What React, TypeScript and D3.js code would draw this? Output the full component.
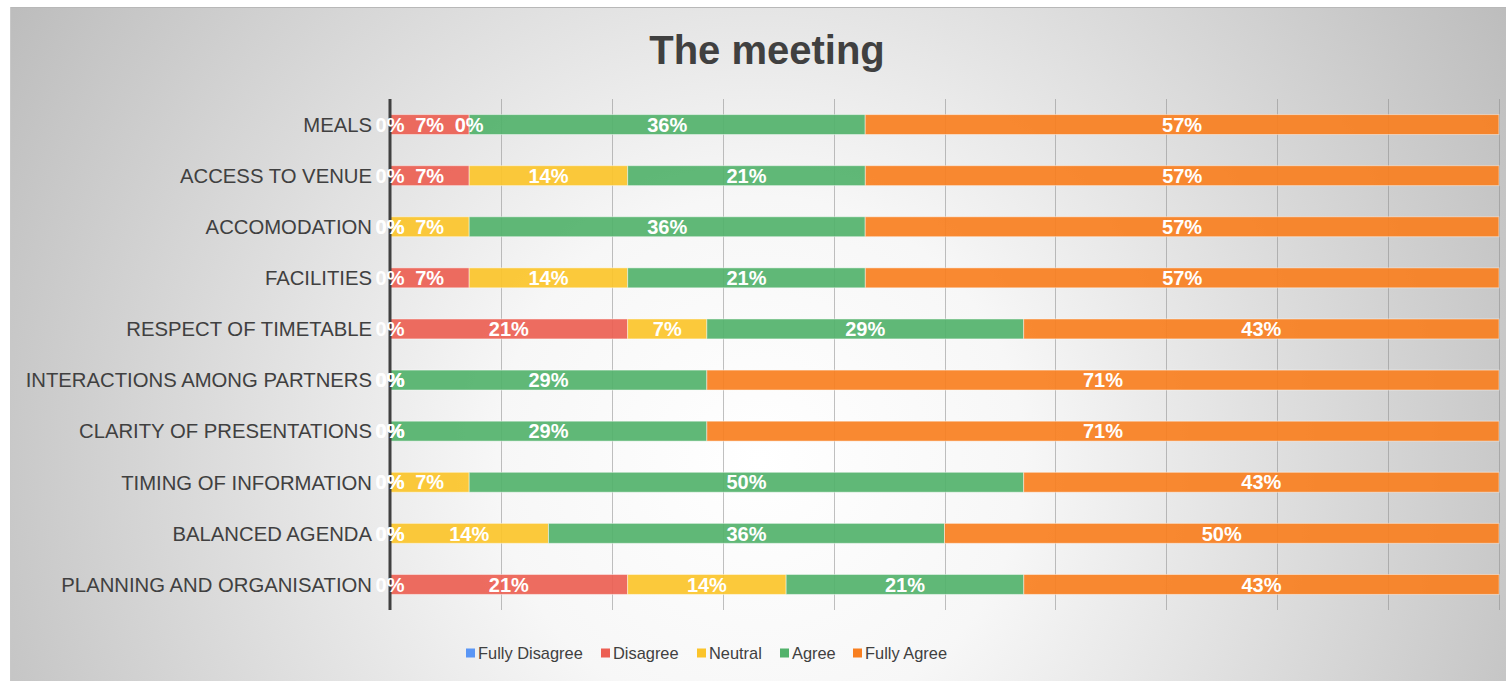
import React from "react";
import * as d3 from "d3";

const categories = [
  "MEALS",
  "ACCESS TO VENUE",
  "ACCOMODATION",
  "FACILITIES",
  "RESPECT OF TIMETABLE",
  "INTERACTIONS AMONG PARTNERS",
  "CLARITY OF PRESENTATIONS",
  "TIMING OF INFORMATION",
  "BALANCED AGENDA",
  "PLANNING AND ORGANISATION",
];
const seriesNames = ["Fully Disagree", "Disagree", "Neutral", "Agree", "Fully Agree"];
const fullyDisagree = [0, 0, 0, 0, 0, 0, 0, 0, 0, 0];
const disagree = [7.14, 7.14, 0, 7.14, 21.43, 0, 0, 0, 0, 21.43];
const neutral = [0, 14.29, 7.14, 14.29, 7.14, 0, 0, 7.14, 14.29, 14.29];
const agree = [35.71, 21.43, 35.71, 21.43, 28.57, 28.57, 28.57, 50, 35.71, 21.43];
const fullyAgree = [57.14, 57.14, 57.14, 57.14, 42.86, 71.43, 71.43, 42.86, 50, 42.86];
const xTicks = [0, 10, 20, 30, 40, 50, 60, 70, 80, 90, 100];
const colors = ["#5a96f5", "#ec5f53", "#fbc42a", "#52b26b", "#f87f20"];
const legendX = [466, 601, 697, 780, 853];

const W = 1506;
const H = 681;
const left = 390;
const right = 1499;
const top = 99;
const bottom = 610;
const FONT = "'Liberation Sans', Arial, sans-serif";

export default function App() {
  const series = [fullyDisagree, disagree, neutral, agree, fullyAgree];
  const rows = categories.map((c, i) => {
    const r: any = { cat: c };
    seriesNames.forEach((s, j) => (r[s] = series[j][i]));
    return r;
  });
  const stacked = d3.stack().keys(seriesNames)(rows);
  const x = d3.scaleLinear().domain([0, 100]).range([left, right]);
  const y = d3
    .scaleBand()
    .domain(categories)
    .range([top, bottom])
    .paddingInner(0.61)
    .paddingOuter(0.305);
  const fmt = (v: number) => d3.format(".0%")(v / 100);

  return (
    <svg
      width={W}
      height={H}
      style={{ position: "absolute", left: 0, top: 0, display: "block" }}
    >
      <defs>
        <radialGradient id="bg" gradientUnits="userSpaceOnUse" cx={760} cy={460} r={880}>
          <stop offset="0" stopColor="#ffffff" />
          <stop offset="0.3" stopColor="#f7f7f7" />
          <stop offset="1" stopColor="#bcbcbc" />
        </radialGradient>
      </defs>
      <rect x={0} y={0} width={W} height={H} fill="#ffffff" />
      <rect x={10} y={7} width={W - 10} height={H - 7} fill="url(#bg)" />
      <line x1={10} x2={W} y1={7.5} y2={7.5} stroke="#b8b8b8" strokeWidth={1} />
      <line x1={10.5} x2={10.5} y1={7} y2={H} stroke="#c8c8c8" strokeWidth={1} />

      <text
        x={767}
        y={64}
        textAnchor="middle"
        fontFamily={FONT}
        fontWeight="bold"
        fontSize={40}
        fill="#404040"
      >
        The meeting
      </text>

      {xTicks.map((t) => (
        <line
          key={t}
          x1={Math.round(x(t)) + 0.5}
          x2={Math.round(x(t)) + 0.5}
          y1={top}
          y2={bottom}
          stroke="#8c8c8c"
          strokeOpacity={0.55}
          strokeWidth={1}
        />
      ))}

      {stacked.map((s, j) => (
        <g key={s.key}>
          {s.map((d: any, i: number) => (
            <rect
              key={i}
              x={x(d[0])}
              y={y(categories[i])}
              width={Math.max(0, x(d[1]) - x(d[0]))}
              height={y.bandwidth()}
              fill={colors[j]}
              fillOpacity={0.92}
              stroke="#ffffff"
              strokeOpacity={0.45}
              strokeWidth={1}
            />
          ))}
        </g>
      ))}

      <line x1={left} x2={left} y1={top} y2={bottom} stroke="#404040" strokeWidth={3} />

      {categories.map((c) => (
        <text
          key={c}
          x={372}
          y={(y(c) as number) + y.bandwidth() / 2}
          dy="0.36em"
          textAnchor="end"
          fontFamily={FONT}
          fontSize={20.3}
          fill="#404040"
        >
          {c}
        </text>
      ))}

      {stacked.map((s, j) => (
        <g key={"l" + s.key}>
          {s.map((d: any, i: number) => (
            <text
              key={i}
              x={(x(d[0]) + x(d[1])) / 2}
              y={(y(categories[i]) as number) + y.bandwidth() / 2}
              dy="0.36em"
              textAnchor="middle"
              fontFamily={FONT}
              fontWeight="bold"
              fontSize={20}
              fill="#ffffff"
            >
              {fmt(d[1] - d[0])}
            </text>
          ))}
        </g>
      ))}

      {seriesNames.map((s, j) => (
        <g key={"leg" + s} transform={`translate(${legendX[j]},653)`}>
          <rect x={0} y={-4.5} width={9} height={9} fill={colors[j]} />
          <text
            x={12}
            y={0}
            dy="0.36em"
            fontFamily={FONT}
            fontSize={16.4}
            fill="#404040"
          >
            {s}
          </text>
        </g>
      ))}
    </svg>
  );
}
